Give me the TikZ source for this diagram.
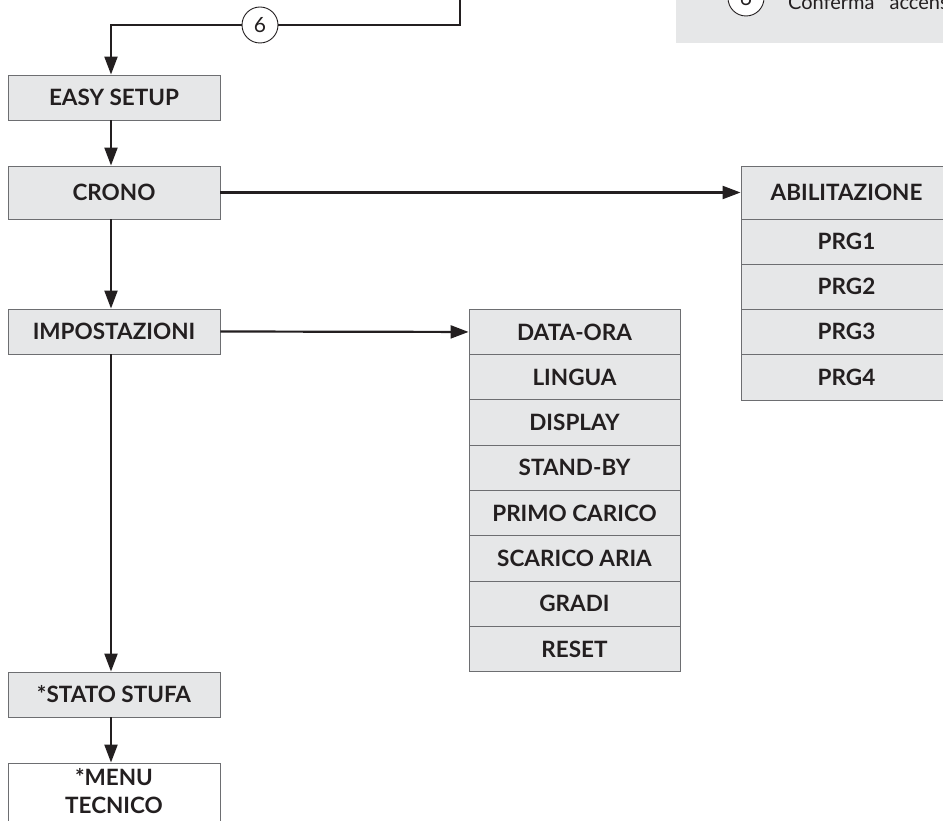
\documentclass[tikz,border=0pt]{standalone}
\usepackage{fontspec}
\setmainfont{Lato}
\usetikzlibrary{arrows.meta}
\definecolor{boxfill}{HTML}{E6E7E8}
\definecolor{boxline}{HTML}{6D6E71}
\definecolor{ink}{HTML}{231F20}
\begin{document}
\begin{tikzpicture}[x=1pt,y=-1pt,
  box/.style={draw=boxline, line width=0.9pt, fill=boxfill, text=ink,
    font=\bfseries\fontsize{22.5}{28}\selectfont, minimum width=212pt,
    inner sep=0pt, align=center},
  lbl/.style={text=ink, font=\bfseries\fontsize{22.5}{28}\selectfont,
    inner sep=0pt, align=center},
  arr/.style={draw=ink, line width=2.2pt, -{Triangle[length=18pt,width=13pt]}},
  plain/.style={draw=ink, line width=2.2pt},
  num/.style={circle, draw=ink, line width=0.9pt, fill=white, minimum size=36pt,
    inner sep=0pt, text=ink, font=\fontsize{21}{25}\selectfont}]
\useasboundingbox (0,0) rectangle (943,821);
\clip (0,0) rectangle (943,821);

% legend panel (top right)
\fill[boxfill] (676,-10) rectangle (960,43.3);
\node[num] (lsix) at (746,-2) {6};
\node[anchor=base west, text=ink, font=\fontsize{20}{24}\selectfont, inner sep=0pt]
  (ltext) at (788,10) {Conferma\hspace{15pt}accensione};

% left column
\node[box, minimum height=45pt] (easy) at (114,97.5) {EASY SETUP};
\node[box, minimum height=53pt] (crono) at (114,192.5) {CRONO};
\node[box, minimum height=45pt] (imp) at (114,331.5) {IMPOSTAZIONI};
\node[box, minimum height=45pt] (stato) at (114,694.5) {*STATO STUFA};
\node[box, fill=white, minimum height=80pt] (menu) at (114,803) {};
\node[lbl] (menulbl) at (114,791) {*MENU\\TECNICO};

% middle stack
\foreach \t [count=\i from 0] in {DATA-ORA,LINGUA,DISPLAY,STAND-BY,PRIMO CARICO,SCARICO ARIA,GRADI,RESET}{
  \node[box, minimum width=211pt, minimum height=45.3pt] (m\i) at (574.5,{309.3+45.3*(\i+0.5)}) {\t};
}

% right stack
\node[box, minimum width=211pt, minimum height=53pt] (r0) at (846.5,192.5) {ABILITAZIONE};
\node[box, minimum width=211pt, minimum height=45pt] (r1) at (846.5,241.5) {PRG1};
\node[box, minimum width=211pt, minimum height=45pt] (r2) at (846.5,286.5) {PRG2};
\node[box, minimum width=211pt, minimum height=45pt] (r3) at (846.5,331.5) {PRG3};
\node[box, minimum width=211pt, minimum height=46pt] (r4) at (846.5,377) {PRG4};

% top connector
\coordinate (top) at (460,-5);
\node[num] (six) at (260,25) {6};
\draw[plain] (top) |- (six.east);
\draw[arr] (six.west) -| ([xshift=-3pt]easy.north);

% vertical arrows
\draw[arr] ([xshift=-3pt]easy.south) -- ([xshift=-3pt]crono.north);
\draw[arr] ([xshift=-3pt]crono.south) -- ([xshift=-3pt]imp.north);
\draw[arr] ([xshift=-3pt]imp.south) -- ([xshift=-3pt]stato.north);
\draw[arr] ([xshift=-3pt]stato.south) -- ([xshift=-3pt]menu.north);

% horizontal arrows
\draw[arr] (crono.east) -- (r0.west);
\draw[arr] (imp.east) -- (m0.west);
\end{tikzpicture}
\end{document}
